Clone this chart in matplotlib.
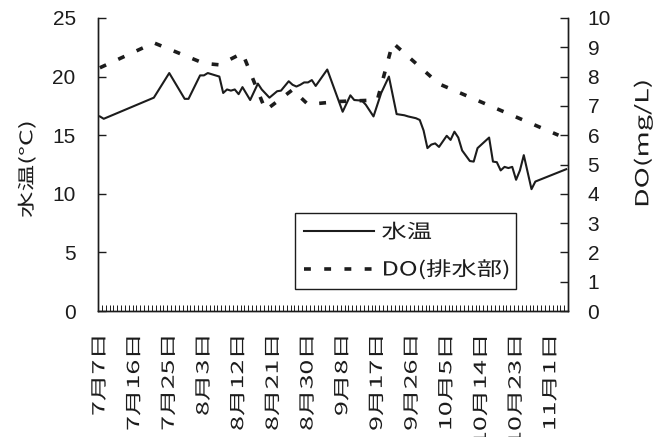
import numpy as np
import matplotlib.pyplot as plt
from matplotlib import patheffects
from matplotlib.transforms import Affine2D

plt.rcParams['font.family'] = ['Noto Sans CJK JP', 'DejaVu Sans']

# daily categories from 7/7, a label every 9 days
date_labels = ["7月7日", "7月16日", "7月25日", "8月3日", "8月12日", "8月21日",
               "8月30日", "9月8日", "9月17日", "9月26日", "10月5日", "10月14日",
               "10月23日", "11月1日"]
label_step = 9
n_days = 122

# water temperature (day index, deg C)
temp_day = [0, 1, 14, 18, 22, 23, 26, 27, 28, 30, 31, 32, 33, 34, 35, 36, 37, 39,
            41, 42, 44, 46, 47, 49, 50, 51, 52, 53, 54, 55, 56, 59, 63, 65, 66, 68,
            69, 71, 73, 75, 77, 79, 80, 82, 83, 84, 85, 86, 87, 88, 90, 91, 92, 93,
            94, 96, 97, 98, 99, 101, 102, 103, 104, 105, 106, 107, 108, 109, 110,
            112, 113, 121]
temp_val = [16.6, 16.4, 18.2, 20.3, 18.1, 18.1, 20.1, 20.1, 20.3, 20.1, 20.0, 18.6,
            18.9, 18.8, 18.9, 18.5, 19.1, 18.0, 19.4, 18.9, 18.2, 18.75, 18.8, 19.6,
            19.3, 19.15, 19.3, 19.5, 19.5, 19.7, 19.2, 20.6, 17.0, 18.4, 18.0, 17.95,
            17.6, 16.6, 18.6, 20.0, 16.8, 16.7, 16.6, 16.45, 16.3, 15.4, 13.9, 14.2,
            14.3, 14.0, 14.95, 14.6, 15.3, 14.8, 13.7, 12.8, 12.75, 13.9, 14.2, 14.8,
            12.75, 12.7, 12.0, 12.3, 12.2, 12.3, 11.2, 12.0, 13.3, 10.4, 11.05, 12.1]

# dissolved oxygen at the outlet (day index, mg/L)
do_day = [0, 14, 27, 31, 37, 43, 50, 54, 62, 72, 76, 88, 119]
do_val = [8.3, 9.15, 8.45, 8.4, 8.8, 6.85, 7.55, 7.05, 7.15, 7.2, 9.15, 7.75, 6.0]

INK = '#1c1c1c'


class Stretch(patheffects.AbstractPathEffect):
    """Widen glyphs along the baseline, keeping one end of the string fixed."""

    def __init__(self, sx, from_end=False):
        super().__init__()
        self.sx = sx
        self.from_end = from_end

    def draw_path(self, renderer, gc, tpath, affine, rgbFace=None):
        cx = tpath.get_extents().x1 if self.from_end else 0.0
        widen = Affine2D().translate(-cx, 0).scale(self.sx, 1).translate(cx, 0)
        renderer.draw_path(gc, tpath, widen + affine, rgbFace)


fig = plt.figure(figsize=(6.53, 4.37), dpi=100)
ax = fig.add_axes([0.150, 0.288, 0.720, 0.671])
ax2 = ax.twinx()

l1, = ax.plot(temp_day, temp_val, color=INK, lw=1.5, label='水温')
l2, = ax2.plot(do_day, do_val, color=INK, lw=2.6, linestyle=(0, (1.9, 3.7)),
               dash_capstyle='butt', label='DO(排水部)')

ax.set_xlim(-0.5, n_days - 0.5)
ax.set_ylim(0, 25)
ax2.set_ylim(0, 10)

for a in (ax, ax2):
    a.spines['top'].set_visible(False)
    for s in ('left', 'right', 'bottom'):
        a.spines[s].set_color(INK)
        a.spines[s].set_linewidth(1.0)

# x axis: a tick mark at every day boundary, labels every 9 days
ax.set_xticks(np.arange(0, n_days, label_step))
ax.set_xticklabels(date_labels, rotation=90)
ax.set_xticks(np.arange(-0.5, n_days, 1), minor=True)
ax.tick_params(axis='x', which='major', length=0, pad=17, labelsize=12,
               labelcolor=INK)
ax.tick_params(axis='x', which='minor', direction='in', length=4.5, width=0.7,
               color=INK)

ax.set_yticks(range(0, 26, 5))
ax.tick_params(axis='y', direction='in', length=6, width=1.0, color=INK, pad=16,
               labelsize=15, labelcolor=INK)
ax2.set_yticks(range(0, 11))
ax2.tick_params(axis='y', direction='in', length=6, width=1.0, color=INK, pad=14,
                labelsize=15, labelcolor=INK)
for lab in ax.get_yticklabels() + ax2.get_yticklabels():
    lab.set_family('Liberation Sans')

for lab in ax.get_xticklabels():
    lab.set_path_effects([Stretch(1.6, from_end=True)])

# axis titles, bottom of each placed in figure pixels and widened upward
W, H = 653, 437
fig.text(27 / W, 1 - 218 / H, '水温(°C)', fontsize=12.5, color=INK, rotation=90,
         ha='center', va='bottom', path_effects=[Stretch(1.53)])
fig.text(643 / W, 1 - 208 / H, 'DO(mg/L)', fontsize=13, color=INK, rotation=90,
         ha='center', va='bottom', path_effects=[Stretch(1.58)])

leg = ax2.legend([l1, l2], ['水温', 'DO(排水部)'], loc='upper left',
                 bbox_to_anchor=(0.419, 0.334, 0.470, 0.0), mode='expand',
                 borderaxespad=0, fancybox=False, framealpha=1, fontsize=14,
                 handlelength=3.6, handletextpad=0.4, labelspacing=0.85,
                 borderpad=0.45)
leg.get_frame().set_edgecolor(INK)
leg.get_frame().set_linewidth(1.0)
for t in leg.get_texts():
    t.set_color(INK)
    t.set_path_effects([Stretch(1.3)])

fig.savefig('out.png', dpi=100, facecolor='white')
